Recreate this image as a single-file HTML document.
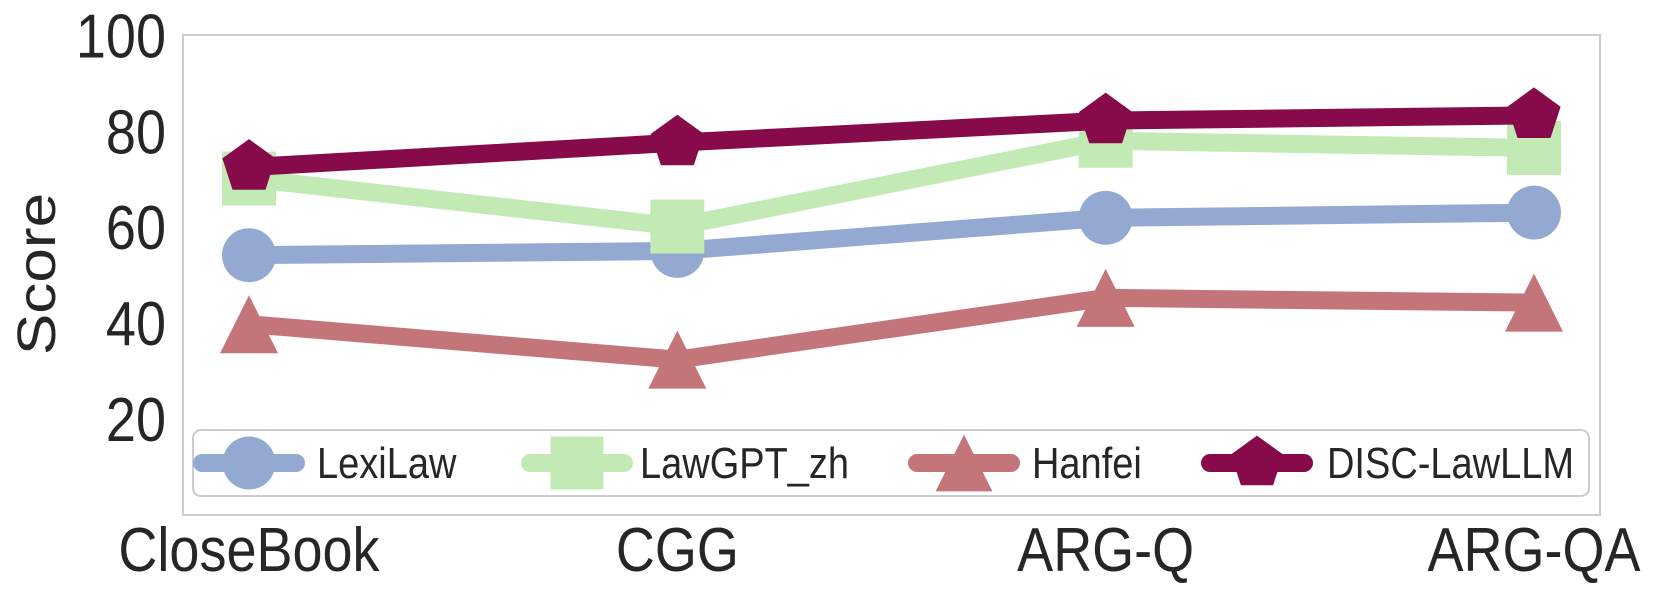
<!DOCTYPE html>
<html><head><meta charset="utf-8"><style>
html,body{margin:0;padding:0;background:#fff;}
svg{display:block;}
text{font-family:"Liberation Sans",Arial,sans-serif;fill:#262626;}
</style></head><body>
<svg id="chart" width="1660" height="596" viewBox="0 0 1660 596" xmlns="http://www.w3.org/2000/svg">
<rect x="183" y="35" width="1417" height="480" fill="#fff" stroke="#cccccc" stroke-width="2"/>
<g id="yticks"></g>
<g id="xticks"></g>
<text x="0" y="0" font-size="54" text-anchor="middle" dominant-baseline="central" transform="translate(37 274) rotate(-90) scale(1.15 1)">Score</text>
<g id="series"></g>
<rect x="193" y="430" width="1396" height="66" rx="8" fill="#fff" stroke="#cccccc" stroke-width="2"/>
<g id="legend"></g>
</svg>
<script>
const categories = ["CloseBook","CGG","ARG-Q","ARG-QA"];
const seriesNames = ["LexiLaw","LawGPT_zh","Hanfei","DISC-LawLLM"];
const lexiLaw = [54.4, 55.3, 62.2, 63.3];
const lawGPT = [70.4, 60.4, 78.3, 76.8];
const hanfei = [40.0, 32.6, 45.5, 44.5];
const disc = [72.8, 77.9, 82.5, 83.6];
const yTicks = [20, 40, 60, 80, 100];

const NS = "http://www.w3.org/2000/svg";
const colors = ["#94a9d2","#c3eab5","#c4757a","#870a4a"];
const markers = ["circle","square","triangle","pentagon"];
const allSeries = [lexiLaw, lawGPT, hanfei, disc];
const X0 = 249, XSTEP = (1534 - 249) / (categories.length - 1);
const SY = 1.15;
function xs(i){ return X0 + i * XSTEP; }
function ys(v){ return 420 - (v - 20) * 4.79; }
function el(tag, attrs, parent){ const e = document.createElementNS(NS, tag); for (const k in attrs) e.setAttribute(k, attrs[k]); parent.appendChild(e); return e; }

function marker(kind, cx, cy, color, parent, s){
  let e;
  if (kind === "circle") e = el("ellipse", {cx: cx, cy: cy, rx: 27*s, ry: 27*s, fill: color}, parent);
  else if (kind === "square") e = el("rect", {x: cx-27*s, y: cy-27*s, width: 54*s, height: 54*s, fill: color}, parent);
  else if (kind === "triangle") e = el("polygon", {points: `${cx},${cy-29*s} ${cx-29*s},${cy+29*s} ${cx+29*s},${cy+29*s}`, fill: color}, parent);
  else {
    const pts = [];
    for (let k = 0; k < 5; k++){ const a = -Math.PI/2 + k*2*Math.PI/5; pts.push((cx + 28*s*Math.cos(a)).toFixed(1) + "," + (cy + 28*s*Math.sin(a)).toFixed(1)); }
    e = el("polygon", {points: pts.join(" "), fill: color}, parent);
  }
  return e;
}

const yg = document.getElementById("yticks");
yTicks.forEach(function(t){
  const tx = el("text", {x: 0, y: 0, "font-size": 54, "text-anchor": "end", "dominant-baseline": "central", transform: `translate(166 ${ys(t)}) scale(1 ${SY})`}, yg);
  tx.textContent = t;
  
  
});
const xg = document.getElementById("xticks");
categories.forEach(function(c, i){
  const tx = el("text", {x: 0, y: 0, "font-size": 54, "text-anchor": "middle", transform: `translate(${xs(i)} 571) scale(1 ${SY})`}, xg);
  tx.textContent = c;
  
  
});

const sg = document.getElementById("series");
allSeries.forEach(function(vals, si){
  const g = el("g", {}, sg);
  
  
  const pts = vals.map(function(v, i){ return xs(i) + "," + ys(v); }).join(" ");
  const line = el("polyline", {points: pts, fill: "none", stroke: colors[si], "stroke-width": 18, "stroke-linejoin": "round"}, g);
  
  
  vals.forEach(function(v, i){
    const m = marker(markers[si], xs(i), ys(v), colors[si], g, 1);
    
    
  });
});

const lg = document.getElementById("legend");
const legMarkerX = [249, 577, 964, 1257];
const legTextX = [317, 640, 1032, 1327];
seriesNames.forEach(function(n, si){
  const g = el("g", {}, lg);
  
  
  const cx = legMarkerX[si], cy = 463;
  el("line", {x1: cx-47, y1: cy, x2: cx+47, y2: cy, stroke: colors[si], "stroke-width": 18, "stroke-linecap": "round"}, g);
  marker(markers[si], cx, cy, colors[si], g, 0.98);
  const tx = el("text", {x: 0, y: 0, "font-size": 38, "dominant-baseline": "central", transform: `translate(${legTextX[si]} ${cy}) scale(1 ${SY})`}, g);
  tx.textContent = n;
  
  
});
</script>
</body></html>
